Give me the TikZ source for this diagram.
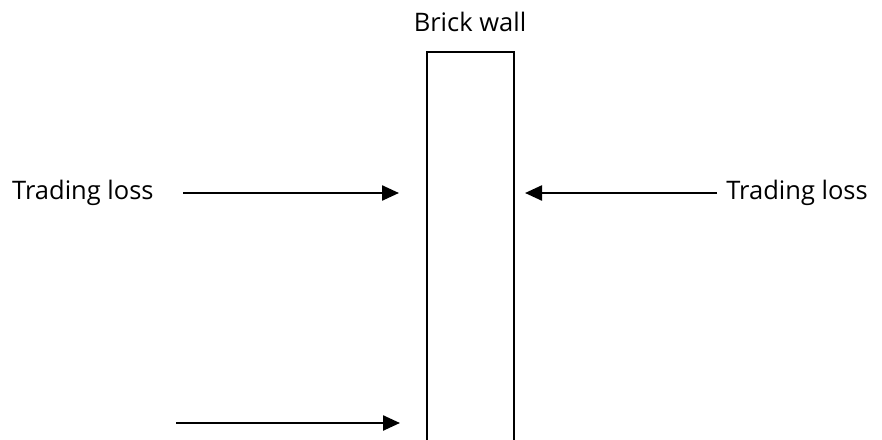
\documentclass[tikz,border=0pt]{standalone}
\usepackage{fontspec}
\setmainfont{Open Sans}
\usetikzlibrary{arrows.meta}
\begin{document}
\begin{tikzpicture}[x=1pt,y=-1pt,
  lbl/.style={inner sep=0pt, font=\fontsize{25.5}{30}\selectfont},
  arr/.style={line width=2.4pt, -{Triangle[length=17pt,width=15pt]}},
  wall/.style={line width=2.2pt}]
\useasboundingbox (0,0) rectangle (882,439);
\node[lbl] (title) at (470,22) {Brick wall};
\coordinate (wtl) at (427,52);
\coordinate (wtr) at (514,52);
\coordinate (wbl) at (427,440);
\coordinate (wbr) at (514,440);
\draw[wall] (wbl) -- (wtl) -- (wtr) -- (wbr);
\node[lbl, anchor=west] (ltxt) at (12,193) {Trading loss};
\node[lbl, anchor=east] (rtxt) at (868,193) {Trading loss};
\coordinate (a1s) at (183,193);
\coordinate (a1e) at (399,193);
\coordinate (a2s) at (717,193);
\coordinate (a2e) at (525,193);
\coordinate (a3s) at (176,423);
\coordinate (a3e) at (400,423);
\draw[arr] (a1s) -- (a1e);
\draw[arr] (a2s) -- (a2e);
\draw[arr] (a3s) -- (a3e);
\end{tikzpicture}
\end{document}
